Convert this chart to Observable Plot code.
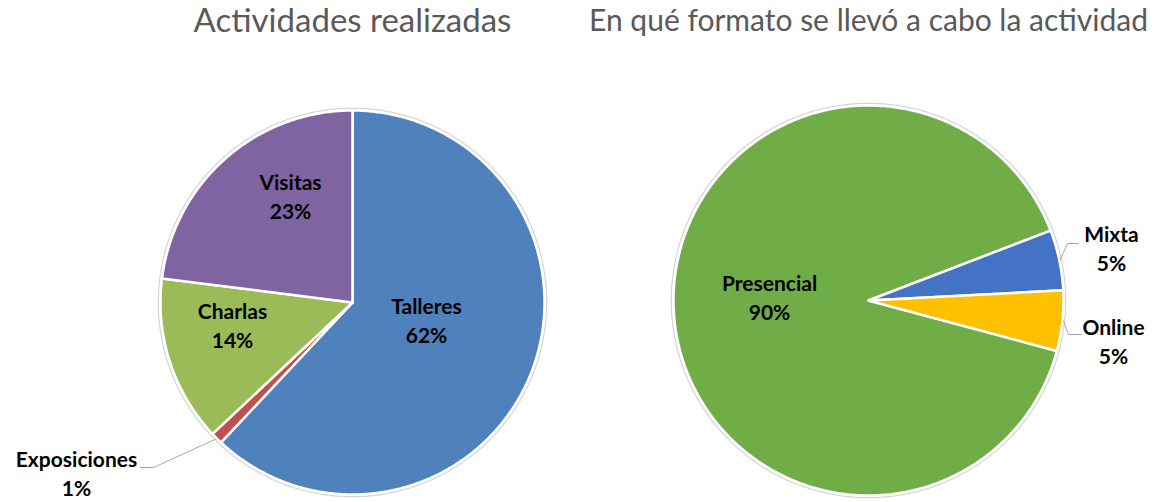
<!DOCTYPE html>
<html><head><meta charset="utf-8">
<script src="https://cdn.jsdelivr.net/npm/d3@7"></script>
<script src="https://cdn.jsdelivr.net/npm/@observablehq/plot@0.6"></script>
<style>body{margin:0;background:#fff} svg{display:block}</style>
</head><body><div id="chart"></div>
<script>
// ---- data ----
const actividades = ["Talleres", "Exposiciones", "Charlas", "Visitas"];
const actividadesPct = [62, 1, 14, 23];
const formatos = ["Presencial", "Mixta", "Online"];
const formatosPct = [90, 5, 5];
const titulos = ["Actividades realizadas", "En qué formato se llevó a cabo la actividad"];

// ---- styles / layout ----
const colores = {
  Talleres: "#4F81BD", Exposiciones: "#C0504D", Charlas: "#9BBB59", Visitas: "#8064A2",
  Presencial: "#70AD47", Mixta: "#4472C4", Online: "#FFC000"
};
const W = 1159, H = 502;
const pies = [
  {cats: actividades, vals: actividadesPct, cx: 352, cy: 302, r: 192, start: 0, title: titulos[0], titleSize: 33},
  {cats: formatos, vals: formatosPct, cx: 868, cy: 300, r: 195, start: 105, title: titulos[1], titleSize: 30}
];
const labelOffset = {
  Talleres: [74, 17], Exposiciones: [-276, 170], Charlas: [-120, 22], Visitas: [-62, -107],
  Presencial: [-99, -4], Mixta: [243, -53], Online: [245, 40]
};
const leaderOffset = {
  Exposiciones: [[-199, 165], [-212, 165]],
  Mixta: [[199, -57], [210, -57]],
  Online: [[200, 34], [213, 34]]
};

const rad = d => d * Math.PI / 180;
const polar = (p, a, rr) => [p.cx + rr * Math.sin(a), p.cy - rr * Math.cos(a)];

const slicePts = [], ringPts = [], labels = [], leaderPts = [], titleRows = [];
pies.forEach((p, pi) => {
  const arcs = d3.pie().sort(null).startAngle(rad(p.start)).endAngle(rad(p.start) + 2 * Math.PI)(p.vals);
  arcs.forEach((a, i) => {
    const cat = p.cats[i];
    slicePts.push({cat, x: p.cx, y: p.cy});
    const n = Math.max(2, Math.ceil((a.endAngle - a.startAngle) / rad(0.5)));
    for (let k = 0; k <= n; k++) {
      const t = a.startAngle + (a.endAngle - a.startAngle) * k / n;
      const [x, y] = polar(p, t, p.r);
      slicePts.push({cat, x, y});
    }
    const off = labelOffset[cat];
    labels.push({cat, x: p.cx + off[0], y: p.cy + off[1], text: cat + "\n" + p.vals[i] + "%"});
    if (leaderOffset[cat]) {
      const mid = (a.startAngle + a.endAngle) / 2;
      const [sx, sy] = polar(p, mid, p.r + 1);
      leaderPts.push({cat, x: sx, y: sy});
      leaderOffset[cat].forEach(o => leaderPts.push({cat, x: p.cx + o[0], y: p.cy + o[1]}));
    }
  });
  for (let k = 0; k <= 720; k++) {
    const [x, y] = polar(p, rad(k / 2), p.r + 2.2);
    ringPts.push({pie: pi, x, y});
  }
  titleRows.push({x: p.cx, y: 21, text: p.title, size: p.titleSize});
});

const chart = Plot.plot({
  width: W, height: H,
  margin: 0,
  x: {domain: [0, W], range: [0, W], axis: null},
  y: {domain: [0, H], range: [0, H], axis: null},
  color: {domain: Object.keys(colores), range: Object.values(colores)},
  style: {fontFamily: "Lato, 'Open Sans', sans-serif", background: "#fff"},
  marks: [
    Plot.line(ringPts, {x: "x", y: "y", z: "pie", stroke: "#d4d4d4", strokeWidth: 1.2}),
    Plot.line(slicePts, {x: "x", y: "y", z: "cat", fill: "cat", stroke: "white", strokeWidth: 2.5, strokeLinejoin: "round", curve: "linear-closed"}),
    Plot.line(leaderPts, {x: "x", y: "y", z: "cat", stroke: "#a6a6a6", strokeWidth: 1}),
    Plot.text(labels, {x: "x", y: "y", text: "text", fontSize: 21, fontWeight: "bold", fill: "#000", lineHeight: 1.38, lineAnchor: "middle"}),
    Plot.text(titleRows.slice(0, 1), {x: "x", y: "y", text: "text", fontSize: pies[0].titleSize, fill: "#595959", lineAnchor: "middle"}),
    Plot.text(titleRows.slice(1), {x: "x", y: "y", text: "text", fontSize: pies[1].titleSize, fill: "#595959", lineAnchor: "middle"})
  ]
});
document.getElementById("chart").appendChild(chart);
</script>
</body></html>
